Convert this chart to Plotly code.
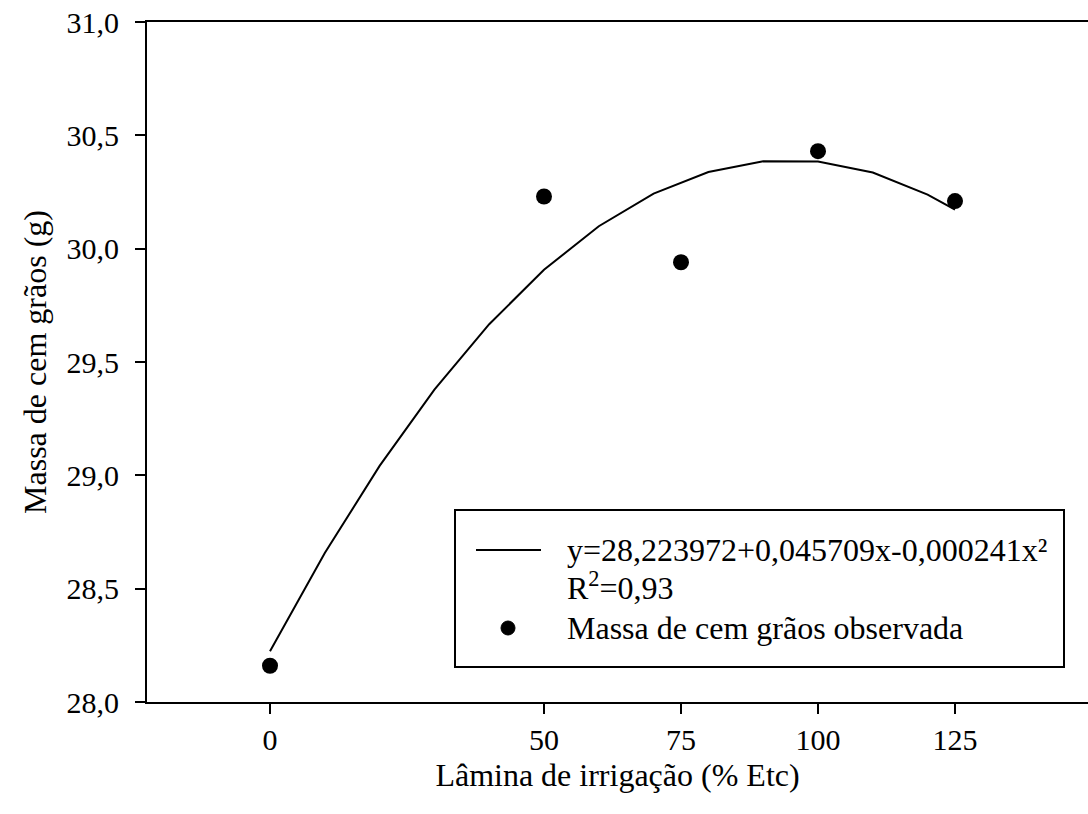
import plotly.graph_objects as go

# Observed hundred-grain mass per irrigation depth
lamina = [0, 50, 75, 100, 125]
massa_obs = [28.16, 30.23, 29.94, 30.43, 30.21]

# Fitted quadratic model (coefficients as printed in the legend)
b0, b1, b2 = 28.223972, 0.045709, -0.000241
x_fit = [0, 10, 20, 30, 40, 50, 60, 70, 80, 90, 100, 110, 120, 125]
y_fit = [b0 + b1 * x + b2 * x * x for x in x_fit]

tick_vals_x = [0, 50, 75, 100, 125]
tick_text_x = ["0", "50", "75", "100", "125"]
tick_vals_y = [28.0, 28.5, 29.0, 29.5, 30.0, 30.5, 31.0]
tick_text_y = ["28,0", "28,5", "29,0", "29,5", "30,0", "30,5", "31,0"]

FONT = "Liberation Serif"
TXT = 32
W, H = 1088, 814
ML, MR, MT, MB = 147, 0, 22, 112
PW, PH = W - ML - MR, H - MT - MB


def px(xp):
    return (xp - ML) / PW


def py(yp):
    return (H - MB - yp) / PH


fig = go.Figure()
fig.add_trace(go.Scatter(x=x_fit, y=y_fit, mode="lines",
                         line=dict(color="black", width=2), showlegend=False))
fig.add_trace(go.Scatter(x=lamina, y=massa_obs, mode="markers",
                         marker=dict(color="black", size=16), showlegend=False))

# Legend box drawn by hand
shapes = [
    dict(type="rect", xref="paper", yref="paper",
         x0=px(455), x1=px(1064), y0=py(667), y1=py(510),
         line=dict(color="black", width=2), fillcolor="white", layer="above"),
    dict(type="line", xref="paper", yref="paper",
         x0=px(476), x1=px(541), y0=py(550), y1=py(550),
         line=dict(color="black", width=2), layer="above"),
    dict(type="circle", xref="paper", yref="paper",
         x0=px(501), x1=px(515), y0=py(635), y1=py(621),
         line=dict(color="black", width=1), fillcolor="black", layer="above"),
]
annotations = [
    dict(text="y=28,223972+0,045709x-0,000241x²", xref="paper", yref="paper",
         x=px(565), y=py(550), xanchor="left", yanchor="middle", showarrow=False,
         font=dict(family=FONT, size=TXT, color="black")),
    dict(text="R<sup>2</sup>=0,93", xref="paper", yref="paper",
         x=px(565), y=py(586), xanchor="left", yanchor="middle", showarrow=False,
         font=dict(family=FONT, size=TXT, color="black")),
    dict(text="Massa de cem grãos observada", xref="paper", yref="paper",
         x=px(565), y=py(628), xanchor="left", yanchor="middle", showarrow=False,
         font=dict(family=FONT, size=TXT, color="black")),
]

fig.update_layout(
    width=W, height=H,
    margin=dict(l=ML, r=MR, t=MT, b=MB),
    paper_bgcolor="white", plot_bgcolor="white",
    font=dict(family=FONT, size=TXT, color="black"),
    shapes=shapes, annotations=annotations,
    xaxis=dict(range=[(147 - 270) / 5.48, (1088 - 270) / 5.48],
               tickvals=tick_vals_x, ticktext=tick_text_x,
               ticks="outside", ticklen=10, tickwidth=2, tickcolor="black",
               showline=True, linecolor="black", linewidth=2, mirror=True,
               showgrid=False, zeroline=False,
               tickfont=dict(family=FONT, size=30),
               title=dict(text="Lâmina de irrigação (% Etc)",
                          font=dict(family=FONT, size=TXT), standoff=9)),
    yaxis=dict(range=[28, 31],
               tickvals=tick_vals_y, ticktext=tick_text_y,
               ticks="outside", ticklen=10, tickwidth=2, tickcolor="black",
               showline=True, linecolor="black", linewidth=2,
               showgrid=False, zeroline=False, ticklabelstandoff=10,
               tickfont=dict(family=FONT, size=30),
               title=dict(text="Massa de cem grãos (g)",
                          font=dict(family=FONT, size=TXT), standoff=10)),
)

fig.write_html("out.html")
